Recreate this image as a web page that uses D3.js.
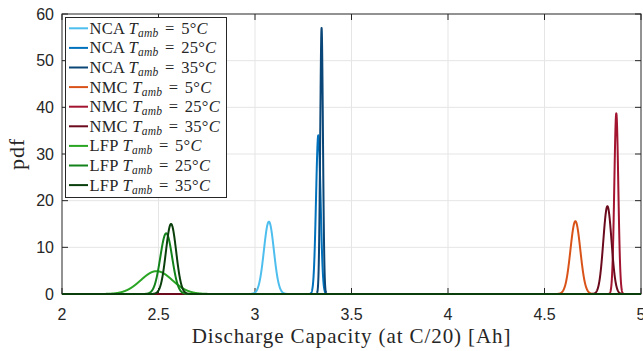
<!DOCTYPE html>
<html><head><meta charset="utf-8">
<script src="https://cdn.jsdelivr.net/npm/d3@7"></script>
<style>
html,body{margin:0;padding:0;background:#fff;}
svg{display:block;}
</style></head>
<body>
<svg id="chart" width="643" height="351"></svg>
<script>
// ---- data ----
const chemistries = ["NCA","NCA","NCA","NMC","NMC","NMC","LFP","LFP","LFP"];
const temps = [5,25,35,5,25,35,5,25,35];
const means = [3.072, 3.328, 3.345, 4.660, 4.872, 4.826, 2.490, 2.540, 2.565];
const peaks = [15.5, 34.0, 57.0, 15.6, 38.7, 18.8, 4.9, 13.0, 15.0];
const colors = ["#4DBEEE","#0072BD","#0A4677","#D95319","#A2142F","#6A0A1C","#2AA523","#12821A","#0A3F0C"];
const xTicks = [2, 2.5, 3, 3.5, 4, 4.5, 5];
const yTicks = [0, 10, 20, 30, 40, 50, 60];

// ---- layout ----
const L = 62, R = 641, T = 14, B = 294;
const svg = d3.select("#chart");
const x = d3.scaleLinear().domain([2,5]).range([L,R]);
const y = d3.scaleLinear().domain([0,60]).range([B,T]);

// grid
const g = svg.append("g");
g.selectAll(".gx").data(xTicks.slice(1,-1)).join("line")
  .attr("x1",d=>x(d)).attr("x2",d=>x(d)).attr("y1",T).attr("y2",B)
  .attr("stroke","#e5e5e5").attr("stroke-width",1);
g.selectAll(".gy").data(yTicks.slice(1,-1)).join("line")
  .attr("y1",d=>y(d)).attr("y2",d=>y(d)).attr("x1",L).attr("x2",R)
  .attr("stroke","#e5e5e5").attr("stroke-width",1);

// axes (box with inward ticks)
const axCol = "#262626";
const tl = 6;
const axG = svg.append("g");
axG.append("rect").attr("x",L).attr("y",T).attr("width",R-L).attr("height",B-T)
  .attr("fill","none").attr("stroke",axCol).attr("stroke-width",1);
xTicks.forEach(v=>{
  axG.append("line").attr("x1",x(v)).attr("x2",x(v)).attr("y1",B).attr("y2",B-tl).attr("stroke",axCol);
  axG.append("line").attr("x1",x(v)).attr("x2",x(v)).attr("y1",T).attr("y2",T+tl).attr("stroke",axCol);
});
yTicks.forEach(v=>{
  axG.append("line").attr("y1",y(v)).attr("y2",y(v)).attr("x1",L).attr("x2",L+tl).attr("stroke",axCol);
  axG.append("line").attr("y1",y(v)).attr("y2",y(v)).attr("x1",R).attr("x2",R-tl).attr("stroke",axCol);
});
// tick labels
axG.selectAll(".xt").data(xTicks).join("text")
  .attr("x",d=>x(d)).attr("y",320).attr("text-anchor","middle")
  .attr("font-family","Liberation Sans, Arial, sans-serif").attr("font-size",16).attr("fill",axCol)
  .text(d=>d3.format("")(d));
axG.selectAll(".yt").data(yTicks).join("text")
  .attr("x",54).attr("y",d=>y(d)).attr("dy","0.36em").attr("text-anchor","end")
  .attr("font-family","Liberation Sans, Arial, sans-serif").attr("font-size",16).attr("fill",axCol)
  .text(d=>d);

// axis labels
const ff = "Liberation Serif, Times New Roman, serif";
svg.append("text").attr("x",(L+R)/2).attr("y",343).attr("text-anchor","middle")
  .attr("font-family",ff).attr("font-size",21).attr("letter-spacing",0.9).attr("fill",axCol)
  .text("Discharge Capacity (at C/20) [Ah]");
svg.append("text").attr("transform",`translate(24,${(T+B)/2}) rotate(-90)`).attr("text-anchor","middle")
  .attr("font-family",ff).attr("font-size",22).attr("letter-spacing",0.9).attr("fill",axCol)
  .text("pdf");

// curves: normal pdf defined by mean and peak height
const xs = d3.range(2, 5.0005, 0.0005);
const line = d3.line().x(d=>x(d[0])).y(d=>y(d[1]));
means.forEach((m,i)=>{
  const s = 1/(peaks[i]*Math.sqrt(2*Math.PI));
  const pts = xs.map(v=>[v, peaks[i]*Math.exp(-0.5*((v-m)/s)**2)]);
  svg.append("path").attr("d",line(pts)).attr("fill","none")
    .attr("stroke",colors[i]).attr("stroke-width",2).attr("stroke-linejoin","round");
});

// legend
const lg = svg.append("g");
lg.append("rect").attr("x",65.5).attr("y",17.5).attr("width",161).attr("height",180)
  .attr("fill","#fff").attr("stroke",axCol).attr("stroke-width",1);
chemistries.forEach((c,i)=>{
  const yy = 28.3 + i*19.6;
  lg.append("line").attr("x1",69).attr("x2",88).attr("y1",yy).attr("y2",yy)
    .attr("stroke",colors[i]).attr("stroke-width",2);
  const t = lg.append("text").attr("x",89.5).attr("y",yy+5.5).attr("font-family",ff)
    .attr("font-size",16.5).attr("letter-spacing",0.25).attr("fill",axCol);
  t.append("tspan").text(c+" ");
  t.append("tspan").attr("font-style","italic").text("T");
  t.append("tspan").attr("font-style","italic").attr("font-size",11.5).attr("dy",3).text("amb");
  t.append("tspan").attr("dy",-3).attr("dx",6.5).text("=");
  t.append("tspan").attr("dx",6.5).text(temps[i]+"°");
  t.append("tspan").attr("font-style","italic").text("C");
});
</script>
</body></html>
